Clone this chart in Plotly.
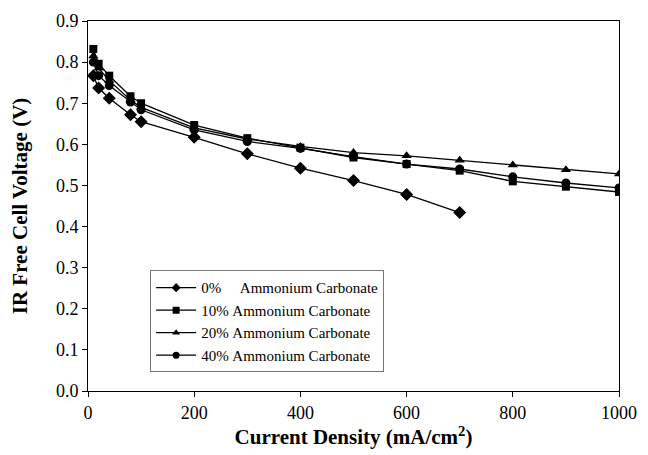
import plotly.graph_objects as go

x_full = [10, 20, 40, 80, 100, 200, 300, 400, 500, 600, 700, 800, 900, 1000]
x_0pct = [10, 20, 40, 80, 100, 200, 300, 400, 500, 600, 700]

v_0pct = [0.767, 0.737, 0.712, 0.672, 0.655, 0.617, 0.577, 0.542, 0.512, 0.478, 0.434]
v_10pct = [0.832, 0.796, 0.767, 0.717, 0.700, 0.647, 0.615, 0.592, 0.568, 0.552, 0.536, 0.510, 0.497, 0.484]
v_20pct = [0.815, 0.785, 0.755, 0.708, 0.690, 0.640, 0.613, 0.595, 0.580, 0.572, 0.561, 0.550, 0.538, 0.528]
v_40pct = [0.800, 0.767, 0.743, 0.703, 0.684, 0.635, 0.607, 0.590, 0.570, 0.552, 0.540, 0.521, 0.506, 0.494]

NB = "\u00a0"
names = [
    "0%" + NB * 5 + "Ammonium Carbonate",
    "10%" + NB + "Ammonium Carbonate",
    "20%" + NB + "Ammonium Carbonate",
    "40%" + NB + "Ammonium Carbonate",
]
series = [(x_0pct, v_0pct, "diamond", 10), (x_full, v_10pct, "square", 8),
          (x_full, v_20pct, "triangle-up", 9), (x_full, v_40pct, "circle", 9)]

fig = go.Figure()
for (xs, ys, sym, sz), nm in zip(series, names):
    fig.add_trace(go.Scatter(
        x=xs, y=ys, mode="lines+markers", name=nm, showlegend=False,
        line=dict(color="black", width=1.3),
        marker=dict(symbol=sym, size=sz, color="black"),
    ))
# legend entries with the smaller symbols used in the reference legend
for (xs, ys, sym, sz), nm in zip(series, names):
    fig.add_trace(go.Scatter(
        x=[None], y=[None], mode="lines+markers", name=nm, showlegend=True,
        line=dict(color="black", width=1.3),
        marker=dict(symbol=sym, size=7, color="black"),
        hoverinfo="skip",
    ))

font_family = "Liberation Serif"
fig.update_layout(
    width=648, height=455,
    margin=dict(l=88, r=29, t=21, b=64),
    paper_bgcolor="white", plot_bgcolor="white",
    font=dict(family=font_family, size=15, color="black"),
    showlegend=True,
    legend=dict(
        x=0.117, y=0.326, xanchor="left", yanchor="top",
        bordercolor="#777777", borderwidth=1, bgcolor="white",
        font=dict(family=font_family, size=15, color="black"),
        itemwidth=40, tracegroupgap=0,
    ),
)
fig.update_xaxes(
    range=[0, 1000], dtick=200, tick0=0,
    showline=True, linecolor="black", linewidth=1, mirror=True,
    ticks="outside", ticklen=5, tickcolor="black", showgrid=False, zeroline=False,
    title=dict(text="<b>Current Density (mA/cm<sup>2</sup>)</b>",
               font=dict(family=font_family, size=21), standoff=4),
    tickfont=dict(family=font_family, size=18),
)
fig.update_yaxes(
    range=[0, 0.9], dtick=0.1, tick0=0, tickformat=".1f",
    showline=True, linecolor="black", linewidth=1, mirror=True,
    ticks="outside", ticklen=5, tickcolor="black", showgrid=False, zeroline=False,
    title=dict(text="<b>IR Free Cell Voltage (V)</b>",
               font=dict(family=font_family, size=21), standoff=22),
    tickfont=dict(family=font_family, size=18),
)

fig.write_html("out.html")
